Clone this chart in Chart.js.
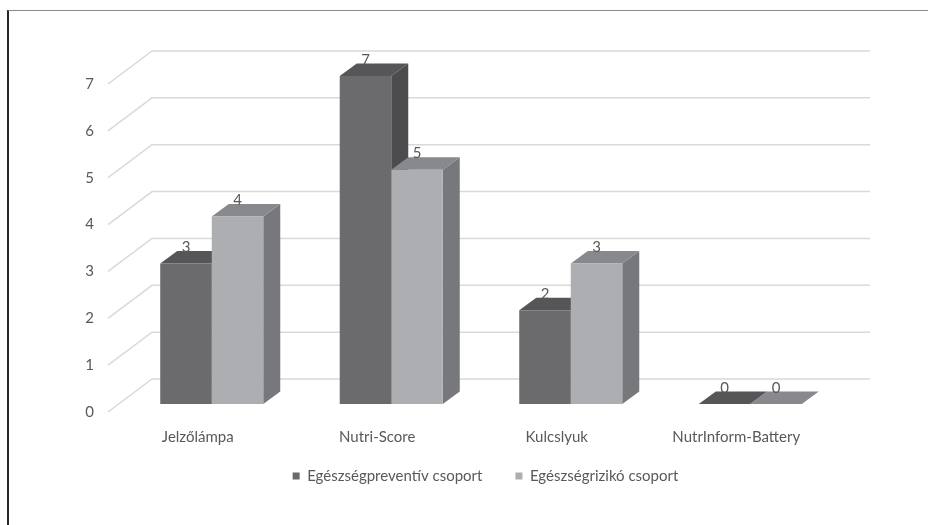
<!DOCTYPE html>
<html>
<head>
<meta charset="utf-8">
<script src="https://cdn.jsdelivr.net/npm/chart.js@4"></script>
<style>
  html, body { margin: 0; padding: 0; background: #fff; }
  #wrap { position: relative; width: 928px; height: 525px; overflow: hidden; }
  #wrap canvas { position: absolute; left: 0; top: 0; }
  #frame { position: absolute; left: 7px; top: 10px; right: -2px; bottom: -2px;
           border-top: 1px solid #8a8a8a; border-left: 2px solid #262626; pointer-events: none; }
</style>
</head>
<body>
<div id="wrap">
  <canvas id="chart" width="928" height="525"></canvas>
  <div id="frame"></div>
</div>
<script>
const categories = ['Jelzőlámpa', 'Nutri-Score', 'Kulcslyuk', 'NutrInform-Battery'];
const preventiveValues = [3, 7, 2, 0];
const riskValues = [4, 5, 3, 0];
const seriesNames = ['Egészségpreventív csoport', 'Egészségrizikó csoport'];
const yTicks = [0, 1, 2, 3, 4, 5, 6, 7];

// front / top / side shades for each series
const faces = [
  { front: '#6b6b6d', top: '#565658', side: '#4c4c4e' },
  { front: '#adaeb1', top: '#88898c', side: '#77787b' }
];

const textColor = '#595959';
const wall = { dx: 44, dy: -33 };      // floor depth, front edge -> back wall
const shift = { dx: 14, dy: -8 };      // bar front face sits a bit behind the axis plane
const depth = { dx: 17, dy: -12.5 };   // bar thickness
const legendCenterY = 476;

Chart.defaults.font.family = 'Lato, "Open Sans", sans-serif';
Chart.defaults.font.size = 15;
Chart.defaults.color = textColor;

function poly(ctx, pts) {
  ctx.beginPath();
  ctx.moveTo(pts[0][0], pts[0][1]);
  for (let i = 1; i < pts.length; i++) ctx.lineTo(pts[i][0], pts[i][1]);
  ctx.closePath();
  ctx.fill();
}

function barBox(bar) {
  const { x, y, base, width } = bar.getProps(['x', 'y', 'base', 'width'], true);
  return {
    l: x - width / 2 + shift.dx,
    r: x + width / 2 + shift.dx,
    t: y + shift.dy,
    b: base + shift.dy,
    cx: x + shift.dx
  };
}

const fake3d = {
  id: 'fake3d',
  afterLayout(chart) {
    // legend sits closer to the axis labels than its item gap would allow
    const lg = chart.legend;
    if (!lg) return;
    const pad = lg.options.labels.padding;
    const top = legendCenterY - pad - lg.options.labels.font.size / 2;
    const dy = top - lg.top;
    lg.top += dy;
    lg.bottom += dy;
    (lg.legendHitBoxes || []).forEach(h => { h.top += dy; });
  },
  beforeDatasetsDraw(chart) {
    const { ctx, chartArea, scales: { y } } = chart;
    ctx.save();
    ctx.strokeStyle = '#d9d9d9';
    ctx.lineWidth = 1.5;
    yTicks.forEach(v => {
      const fy = y.getPixelForValue(v);
      ctx.beginPath();
      ctx.moveTo(chartArea.left, fy);
      ctx.lineTo(chartArea.left + wall.dx, fy + wall.dy);
      ctx.lineTo(chartArea.right + wall.dx, fy + wall.dy);
      ctx.stroke();
    });

    chart.data.datasets.forEach((ds, i) => {
      chart.getDatasetMeta(i).data.forEach(bar => {
        const { l, r, t, b } = barBox(bar);
        ctx.fillStyle = faces[i].side;
        poly(ctx, [[r, t], [r + depth.dx, t + depth.dy], [r + depth.dx, b + depth.dy], [r, b]]);
        ctx.fillStyle = faces[i].top;
        poly(ctx, [[l, t], [l + depth.dx, t + depth.dy], [r + depth.dx, t + depth.dy], [r, t]]);
      });
    });
    ctx.restore();

    // the library draws the front faces, moved onto the bar plane
    ctx.save();
    ctx.translate(shift.dx, shift.dy);
  },
  afterDatasetsDraw(chart) {
    const { ctx } = chart;
    ctx.restore();

    ctx.save();
    ctx.fillStyle = textColor;
    ctx.font = '15px Lato, "Open Sans", sans-serif';
    ctx.textAlign = 'center';
    ctx.textBaseline = 'alphabetic';
    chart.data.datasets.forEach((ds, i) => {
      chart.getDatasetMeta(i).data.forEach((bar, j) => {
        const { cx, t } = barBox(bar);
        ctx.fillText(String(ds.data[j]), cx, t + depth.dy + 1);
      });
    });
    ctx.restore();
  }
};

new Chart(document.getElementById('chart'), {
  type: 'bar',
  data: {
    labels: categories,
    datasets: [
      { label: seriesNames[0], data: preventiveValues, backgroundColor: faces[0].front },
      { label: seriesNames[1], data: riskValues, backgroundColor: faces[1].front }
    ]
  },
  options: {
    responsive: false,
    animation: false,
    clip: false,
    barPercentage: 1,
    categoryPercentage: 0.574,
    layout: { padding: { left: 50, right: 7, top: 84, bottom: 5 } },
    scales: {
      x: {
        grid: { display: false, drawTicks: false },
        border: { display: false },
        ticks: { padding: 16, color: textColor }
      },
      y: {
        min: 0,
        max: 7,
        grid: { display: false, drawTicks: false },
        border: { display: false },
        ticks: { stepSize: 1, padding: 14, color: textColor },
        afterFit: s => { s.width = 58; }
      },
      pad: {
        type: 'linear',
        position: 'right',
        display: true,
        grid: { display: false, drawTicks: false },
        border: { display: false },
        ticks: { display: false },
        afterFit: s => { s.width = 95; }
      }
    },
    plugins: {
      legend: {
        position: 'bottom',
        labels: { boxWidth: 7, boxHeight: 7, padding: 33, color: textColor, font: { size: 15 } }
      },
      tooltip: { enabled: false }
    }
  },
  plugins: [fake3d]
});
</script>
</body>
</html>
